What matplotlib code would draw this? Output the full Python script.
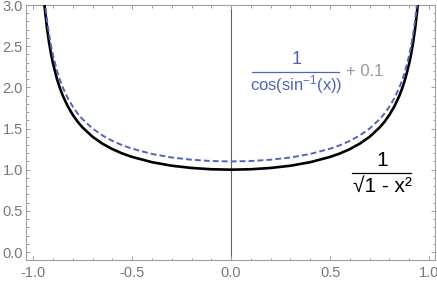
import matplotlib
matplotlib.use("Agg")
import matplotlib.pyplot as plt
from matplotlib.lines import Line2D

# values
x_vals = [-0.96, -0.95, -0.94, -0.93, -0.92, -0.91, -0.9, -0.88, -0.865, -0.85,
          -0.825, -0.8, -0.775, -0.75, -0.7, -0.65, -0.6, -0.55, -0.5, -0.4,
          -0.3, -0.2, -0.1, 0.0, 0.1, 0.2, 0.3, 0.4, 0.5, 0.55, 0.6, 0.65, 0.7,
          0.75, 0.775, 0.8, 0.825, 0.85, 0.865, 0.88, 0.9, 0.91, 0.92, 0.93,
          0.94, 0.95, 0.96]
y_sqrt = [3.571, 3.203, 2.931, 2.721, 2.552, 2.412, 2.294, 2.105, 1.993, 1.898,
          1.770, 1.667, 1.582, 1.512, 1.400, 1.316, 1.250, 1.197, 1.155, 1.091,
          1.048, 1.021, 1.005, 1.000, 1.005, 1.021, 1.048, 1.091, 1.155, 1.197,
          1.250, 1.316, 1.400, 1.512, 1.582, 1.667, 1.770, 1.898, 1.993, 2.105,
          2.294, 2.412, 2.552, 2.721, 2.931, 3.203, 3.571]
y_cos = [3.671, 3.303, 3.031, 2.821, 2.652, 2.512, 2.394, 2.205, 2.093, 1.998,
         1.870, 1.767, 1.682, 1.612, 1.500, 1.416, 1.350, 1.297, 1.255, 1.191,
         1.148, 1.121, 1.105, 1.100, 1.105, 1.121, 1.148, 1.191, 1.255, 1.297,
         1.350, 1.416, 1.500, 1.612, 1.682, 1.767, 1.870, 1.998, 2.093, 2.205,
         2.394, 2.512, 2.652, 2.821, 3.031, 3.303, 3.671]

x_ticks = [-1.0, -0.5, 0.0, 0.5, 1.0]
y_ticks = [0.0, 0.5, 1.0, 1.5, 2.0, 2.5, 3.0]

plt.rcParams['font.family'] = ['Liberation Sans', 'DejaVu Sans']
plt.rcParams['axes.unicode_minus'] = False
plt.rcParams['mathtext.fontset'] = 'custom'
plt.rcParams['mathtext.rm'] = 'Liberation Sans'
plt.rcParams['mathtext.it'] = 'Liberation Sans'

W, H = 437, 284
fig = plt.figure(figsize=(W / 100, H / 100), dpi=100)
ax = fig.add_axes([26 / W, 1 - 260 / H, (435 - 26) / W, (260 - 5) / H])

blue = '#5363b8'
frame = '#a0a0a0'

ax.axvline(0, color='#606060', lw=0.8, zorder=1)
ax.plot(x_vals, y_sqrt, color='black', lw=1.9, zorder=3)
ax.plot(x_vals, y_cos, color=blue, lw=1.4, ls=(0, (3, 1.6)), zorder=4)

ax.set_xlim(-1.036, 1.03)
ax.set_ylim(-0.097, 3.0)
ax.set_xticks(x_ticks)
ax.set_yticks(y_ticks)
ax.set_xticks([v / 10 for v in range(-10, 11)], minor=True)
ax.set_yticks([v / 10 for v in range(0, 31)], minor=True)
ax.set_xticklabels([f"{v:.1f}" for v in x_ticks])
ax.set_yticklabels([f"{v:.1f}" for v in y_ticks])

for s in ax.spines.values():
    s.set_color(frame)
    s.set_linewidth(0.8)
ax.tick_params(which='both', direction='in', top=True, right=True,
               color=frame, width=0.7)
ax.tick_params(which='major', length=3.2)
ax.tick_params(which='minor', length=1.8)
ax.tick_params(axis='x', labelsize=10.5, labelcolor='#777777', pad=4.5)
ax.tick_params(axis='y', labelsize=10.5, labelcolor='#777777', pad=2.3)


def fx(px):
    return px / W


def fy(py):
    return 1 - py / H


# blue label: 1 / cos(sin^-1(x)) + 0.1
fig.text(fx(297), fy(60), "1", color=blue, fontsize=13, ha='center', va='center')
fig.add_artist(Line2D([fx(252), fx(339)], [fy(72), fy(72)], color=blue, lw=0.9))
fig.text(fx(296), fy(85), r"cos(sin$^{-1}$(x))", color=blue, fontsize=12,
         ha='center', va='center')
fig.text(fx(346), fy(72), "+ 0.1", color='#999999', fontsize=12, ha='left', va='center')

# black label: 1 / sqrt(1 - x^2)
fig.text(fx(382), fy(160), "1", color='black', fontsize=15, ha='center', va='center')
fig.add_artist(Line2D([fx(352), fx(411)], [fy(173), fy(173)], color='black', lw=0.9))
fig.text(fx(382), fy(186), "√1 - x²", color='black', fontsize=15, ha='center', va='center')

fig.savefig("out.png", dpi=100)
